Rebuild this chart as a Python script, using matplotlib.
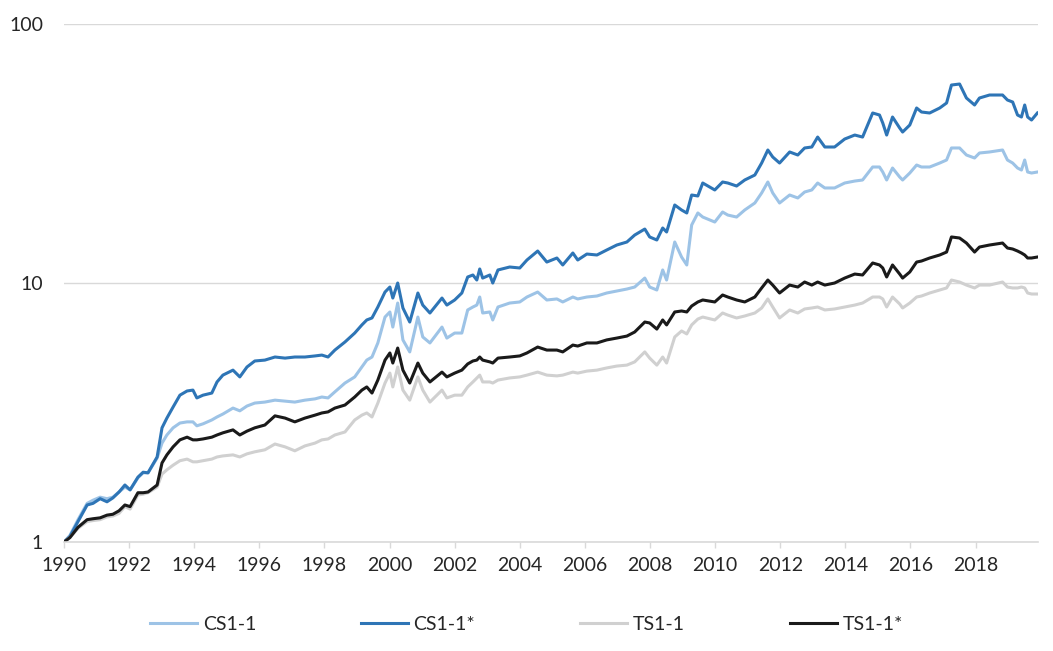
import matplotlib.pyplot as plt
from matplotlib.ticker import FixedLocator, NullLocator

# decimal years of the points
dates = [
    1990.00, 1990.18, 1990.43, 1990.71, 1990.89, 1991.11, 1991.32, 1991.50, 1991.69, 1991.87,
    1992.03, 1992.27, 1992.43, 1992.58, 1992.86, 1993.01, 1993.16, 1993.35, 1993.56, 1993.78,
    1993.96, 1994.08, 1994.27, 1994.54, 1994.70, 1994.88, 1995.19, 1995.40, 1995.62, 1995.86,
    1996.17, 1996.48, 1996.79, 1997.09, 1997.40, 1997.71, 1997.92, 1998.11, 1998.32, 1998.63,
    1998.93, 1999.15, 1999.30, 1999.46, 1999.64, 1999.86, 2000.01, 2000.10, 2000.25, 2000.41,
    2000.62, 2000.87, 2001.02, 2001.24, 2001.61, 2001.76, 2002.00, 2002.22, 2002.40, 2002.56,
    2002.68, 2002.77, 2002.86, 2003.08, 2003.17, 2003.33, 2003.69, 2004.00, 2004.22, 2004.55,
    2004.83, 2005.14, 2005.32, 2005.63, 2005.78, 2006.06, 2006.37, 2006.67, 2006.98, 2007.29,
    2007.53, 2007.84, 2007.99, 2008.21, 2008.39, 2008.51, 2008.76, 2008.97, 2009.13, 2009.28,
    2009.47, 2009.62, 2009.99, 2010.23, 2010.39, 2010.66, 2010.91, 2011.22, 2011.43, 2011.62,
    2011.77, 2011.98, 2012.29, 2012.54, 2012.75, 2012.97, 2013.15, 2013.37, 2013.67, 2013.98,
    2014.29, 2014.53, 2014.84, 2015.05, 2015.15, 2015.27, 2015.45, 2015.67, 2015.76, 2015.98,
    2016.19, 2016.34, 2016.59, 2016.90, 2017.11, 2017.26, 2017.51, 2017.72, 2017.97, 2018.12,
    2018.43, 2018.83, 2018.98, 2019.14, 2019.29, 2019.41, 2019.51, 2019.60, 2019.72, 2019.90,
]

cs = [
    1.00, 1.06, 1.22, 1.41, 1.45, 1.49, 1.47, 1.49, 1.56, 1.63,
    1.59, 1.77, 1.85, 1.85, 2.11, 2.41, 2.59, 2.76, 2.88, 2.91,
    2.91, 2.81, 2.86, 2.96, 3.04, 3.12, 3.29, 3.21, 3.35, 3.44,
    3.47, 3.53, 3.50, 3.47, 3.53, 3.57, 3.63, 3.60, 3.80, 4.11,
    4.34, 4.74, 5.04, 5.18, 5.87, 7.39, 7.73, 6.76, 8.37, 6.03,
    5.42, 7.39, 6.19, 5.87, 6.76, 6.13, 6.41, 6.41, 7.87, 8.08,
    8.22, 8.83, 7.66, 7.73, 7.20, 8.08, 8.37, 8.45, 8.83, 9.23,
    8.60, 8.68, 8.45, 8.83, 8.68, 8.83, 8.91, 9.15, 9.31, 9.48,
    9.65, 10.45, 9.65, 9.40, 11.23, 10.27, 14.40, 12.60, 11.74, 16.75,
    18.64, 17.98, 17.20, 18.80, 18.30, 17.98, 19.14, 20.37, 22.27, 24.55,
    22.27, 20.37, 21.87, 21.30, 22.46, 22.87, 24.33, 23.28, 23.28, 24.33,
    24.76, 24.99, 28.05, 28.05, 26.83, 24.99, 27.80, 25.66, 24.99, 26.59,
    28.55, 28.05, 28.05, 29.06, 29.85, 33.22, 33.22, 31.21, 30.39, 31.77,
    32.06, 32.63, 29.85, 29.06, 27.80, 27.31, 29.85, 26.83, 26.59, 26.83,
]

cs_star = [
    1.00, 1.05, 1.20, 1.39, 1.41, 1.47, 1.43, 1.48, 1.56, 1.66,
    1.59, 1.78, 1.86, 1.85, 2.13, 2.76, 3.01, 3.32, 3.69, 3.83,
    3.86, 3.60, 3.69, 3.76, 4.15, 4.41, 4.61, 4.34, 4.74, 5.00,
    5.04, 5.18, 5.13, 5.18, 5.18, 5.23, 5.27, 5.18, 5.51, 5.92,
    6.41, 6.89, 7.20, 7.33, 8.08, 9.23, 9.65, 8.75, 10.00, 8.01,
    7.07, 9.15, 8.22, 7.66, 8.75, 8.22, 8.60, 9.15, 10.55, 10.74,
    10.27, 11.33, 10.45, 10.74, 10.00, 11.23, 11.53, 11.43, 12.27, 13.29,
    12.05, 12.49, 11.74, 13.06, 12.27, 12.94, 12.83, 13.41, 14.02, 14.40,
    15.32, 16.16, 15.06, 14.66, 16.31, 15.74, 20.01, 19.14, 18.64, 21.87,
    21.68, 24.33, 22.87, 24.55, 24.33, 23.69, 24.99, 26.12, 29.06, 32.63,
    30.66, 29.06, 32.06, 31.21, 33.22, 33.51, 36.61, 33.51, 33.51, 35.97,
    37.27, 36.61, 45.34, 44.53, 41.48, 37.27, 43.75, 39.67, 38.28, 40.74,
    47.40, 45.74, 45.34, 47.40, 49.55, 58.14, 58.66, 51.80, 48.68, 51.80,
    53.20, 53.20, 50.88, 49.99, 44.53, 43.75, 48.68, 43.75, 42.59, 45.34,
]

ts = [
    1.00, 1.04, 1.13, 1.20, 1.21, 1.22, 1.25, 1.26, 1.29, 1.37,
    1.34, 1.52, 1.53, 1.55, 1.63, 1.83, 1.90, 1.98, 2.06, 2.09,
    2.04, 2.04, 2.06, 2.09, 2.13, 2.15, 2.17, 2.13, 2.19, 2.23,
    2.27, 2.39, 2.33, 2.25, 2.35, 2.41, 2.48, 2.50, 2.59, 2.66,
    2.96, 3.09, 3.15, 3.04, 3.44, 4.11, 4.49, 3.97, 4.74, 3.86,
    3.53, 4.34, 3.86, 3.47, 3.86, 3.60, 3.69, 3.69, 3.97, 4.15,
    4.30, 4.41, 4.15, 4.15, 4.11, 4.22, 4.30, 4.34, 4.41, 4.53,
    4.41, 4.38, 4.41, 4.53, 4.49, 4.57, 4.61, 4.70, 4.78, 4.82,
    4.96, 5.42, 5.13, 4.82, 5.18, 4.91, 6.19, 6.53, 6.36, 6.89,
    7.26, 7.39, 7.20, 7.66, 7.52, 7.33, 7.46, 7.66, 8.01, 8.68,
    8.08, 7.33, 7.87, 7.66, 7.94, 8.01, 8.08, 7.87, 7.94, 8.08,
    8.22, 8.37, 8.83, 8.83, 8.68, 8.08, 8.83, 8.30, 8.01, 8.37,
    8.83, 8.91, 9.15, 9.40, 9.57, 10.27, 10.09, 9.82, 9.57, 9.82,
    9.82, 10.09, 9.65, 9.57, 9.57, 9.65, 9.57, 9.15, 9.07, 9.07,
]

ts_star = [
    1.00, 1.04, 1.14, 1.22, 1.23, 1.24, 1.27, 1.28, 1.32, 1.39,
    1.37, 1.55, 1.55, 1.56, 1.66, 2.02, 2.17, 2.33, 2.48, 2.54,
    2.48, 2.48, 2.50, 2.54, 2.59, 2.64, 2.71, 2.59, 2.68, 2.76,
    2.83, 3.07, 3.01, 2.91, 3.01, 3.09, 3.15, 3.18, 3.29, 3.38,
    3.63, 3.86, 3.97, 3.76, 4.22, 5.04, 5.37, 4.91, 5.61, 4.61,
    4.11, 4.91, 4.49, 4.15, 4.53, 4.34, 4.49, 4.61, 4.87, 5.00,
    5.04, 5.18, 5.04, 4.96, 4.91, 5.13, 5.18, 5.23, 5.37, 5.66,
    5.51, 5.51, 5.42, 5.76, 5.71, 5.87, 5.87, 6.03, 6.13, 6.24,
    6.47, 7.07, 7.01, 6.64, 7.20, 6.89, 7.73, 7.80, 7.73, 8.15,
    8.45, 8.60, 8.45, 8.99, 8.83, 8.60, 8.45, 8.83, 9.57, 10.27,
    9.82, 9.15, 9.82, 9.65, 10.09, 9.82, 10.09, 9.82, 10.00, 10.45,
    10.83, 10.74, 11.95, 11.74, 11.43, 10.55, 11.74, 10.83, 10.45, 11.03,
    12.05, 12.16, 12.49, 12.83, 13.17, 15.06, 14.92, 14.27, 13.17, 13.77,
    14.02, 14.27, 13.65, 13.53, 13.29, 13.06, 12.83, 12.49, 12.49, 12.60,
]

series = [
    ("CS1-1", cs, "#9dc3e6"),
    ("CS1-1*", cs_star, "#2e75b6"),
    ("TS1-1", ts, "#d0d0d0"),
    ("TS1-1*", ts_star, "#1a1a1a"),
]

year_ticks = list(range(1990, 2019, 2))

plt.rcParams['font.family'] = ['Lato', 'DejaVu Sans']

fig = plt.figure(figsize=(10.53, 6.51), dpi=100)
ax = fig.add_axes([0.0608, 0.1674, 0.925, 0.7957])

for name, vals, color in series:
    ax.plot(dates, vals, color=color, linewidth=2.2, label=name)

ax.set_yscale("log")
ax.set_ylim(1, 100)
ax.set_xlim(1990, 2019.92)

ax.yaxis.set_major_locator(FixedLocator([1, 10, 100]))
ax.yaxis.set_minor_locator(NullLocator())
ax.set_yticklabels(["1", "10", "100"])
ax.grid(axis="y", color="#d9d9d9", linewidth=1)
ax.set_axisbelow(True)

ax.set_xticks(year_ticks)
ax.set_xticklabels([str(y) for y in year_ticks])

for s in ["top", "right", "left"]:
    ax.spines[s].set_visible(False)
ax.spines["bottom"].set_color("#d9d9d9")
ax.spines["bottom"].set_linewidth(1.2)

ax.tick_params(axis="y", length=0, pad=15, labelsize=14, labelcolor="#262626")
ax.tick_params(axis="x", length=4, width=1, color="#d9d9d9", pad=7,
               labelsize=14, labelcolor="#262626")

fig.legend(loc="center", bbox_to_anchor=(0.5, 0.041), ncol=4, frameon=False,
           fontsize=14, handlelength=2.4, handletextpad=0.3, columnspacing=5.4,
           labelcolor="#262626")

fig.savefig("out.png", dpi=100)
